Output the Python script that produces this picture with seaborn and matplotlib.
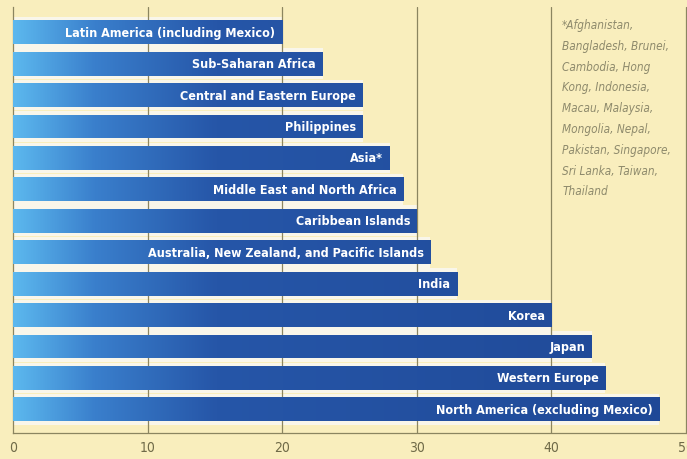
import numpy as np
import pandas as pd
import seaborn as sns
import matplotlib.pyplot as plt
from matplotlib.colors import LinearSegmentedColormap

regions = [
    "Latin America (including Mexico)",
    "Sub-Saharan Africa",
    "Central and Eastern Europe",
    "Philippines",
    "Asia*",
    "Middle East and North Africa",
    "Caribbean Islands",
    "Australia, New Zealand, and Pacific Islands",
    "India",
    "Korea",
    "Japan",
    "Western Europe",
    "North America (excluding Mexico)",
]
values = [20, 23, 26, 26, 28, 29, 30, 31, 33, 40, 43, 44, 48]
xticks = [0, 10, 20, 30, 40, 50]
footnote = ("*Afghanistan,\nBangladesh, Brunei,\nCambodia, Hong\nKong, Indonesia,\n"
            "Macau, Malaysia,\nMongolia, Nepal,\nPakistan, Singapore,\n"
            "Sri Lanka, Taiwan,\nThailand")

df = pd.DataFrame({"region": regions, "value": values})

bg = "#f9eebd"
grid_c = "#8b8560"

sns.set_style("white")
plt.rcParams['font.family'] = ['DejaVu Sans']

fig = plt.figure(figsize=(6.87, 4.60), dpi=100, facecolor=bg)
ax = fig.add_axes([13/687, 26/460, 673/687, 426/460])
ax.set_facecolor(bg)

# pale strip under each bar
sns.barplot(data=df, x="value", y="region", color="#fbf7e8", width=0.98,
            ax=ax, zorder=1, edgecolor="none")
sns.barplot(data=df, x="value", y="region", color="#2450a0", width=0.76,
            ax=ax, zorder=3, edgecolor="none")

# gradient fill, light blue on the left
cmap = LinearSegmentedColormap.from_list(
    "bar", [(0, "#5cb8ee"), (0.12, "#3a7fcc"), (0.3, "#2656a8"), (1, "#1f4896")])
grad = np.linspace(0, 1, 256).reshape(1, -1)
n = len(regions)
for p in ax.patches[n:]:
    y0, h = p.get_y(), p.get_height()
    im = ax.imshow(grad, cmap=cmap, aspect="auto", extent=[0, 50, y0 + h, y0],
                   zorder=4, interpolation="bilinear")
    im.set_clip_path(p)
    p.set_facecolor("none")

for i, (r, v) in enumerate(zip(regions, values)):
    ax.text(v - 0.5, i, r, ha="right", va="center", color="white",
            fontsize=9, fontweight="bold", fontstretch="condensed", zorder=6)

for xv in xticks[1:-1]:
    ax.axvline(xv, color=grid_c, lw=0.9, zorder=2)

ax.text(40.8, -0.45, footnote, ha="left", va="top", fontsize=8.5, style="italic",
        fontstretch="condensed", color="#8e8a6c", linespacing=1.78, zorder=6)

ax.set_xlim(0, 50)
ax.set_ylim(12.75, -0.8)
ax.set_xticks(xticks)
ax.set_xticklabels([str(t) for t in xticks], fontsize=10, color="#6f6a48",
                   fontstretch="condensed")
ax.set_yticks([])
ax.set_xlabel("")
ax.set_ylabel("")
for s in ["top", "right"]:
    ax.spines[s].set_visible(False)
ax.spines["left"].set_color(grid_c)
ax.spines["bottom"].set_color(grid_c)
ax.spines["left"].set_linewidth(0.9)
ax.spines["bottom"].set_linewidth(0.9)
ax.axvline(50, color=grid_c, lw=0.9, zorder=2, clip_on=False)
ax.tick_params(axis="x", length=3, width=0.9, color=grid_c, pad=2, direction="out")

fig.savefig("out.png", dpi=100, facecolor=bg)
